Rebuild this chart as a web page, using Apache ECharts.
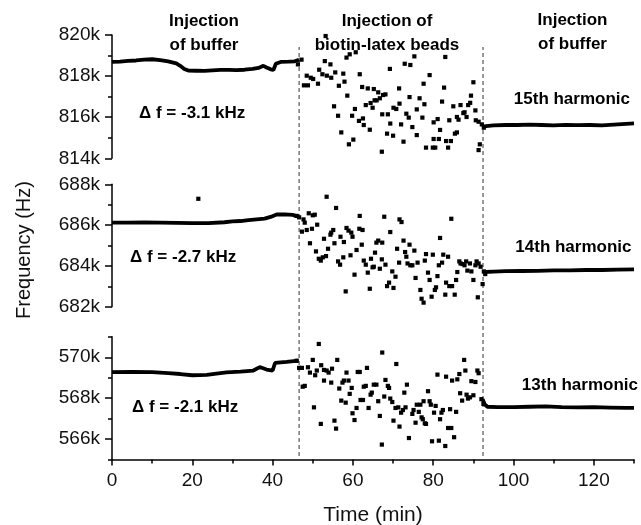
<!DOCTYPE html>
<html><head><meta charset="utf-8">
<script src="https://cdn.jsdelivr.net/npm/echarts@6/dist/echarts.min.js"></script>
<style>html,body{margin:0;padding:0;background:#fff}#chart{width:641px;height:525px}</style>
</head><body><div id="chart"></div>
<script>
// ---- axes / labels ----
const xRange = [0, 130];
const xTickLabels = [0, 20, 40, 60, 80, 100, 120];
const xMinorTicks = [10, 30, 50, 70, 90, 110, 130];
const injectionTimes = [46.6, 92.4];
const panelRanges = [[814, 820], [682, 688], [565, 571]];
const majorTicks = [[814, 816, 818, 820], [682, 684, 686, 688], [566, 568, 570]];
const minorTicks = [[815, 817, 819], [683, 685, 687], [565, 567, 569, 571]];
const harmonicLabels = ['15th harmonic', '14th harmonic', '13th harmonic'];
const shiftLabels = ['\u0394 f = -3.1 kHz', '\u0394 f = -2.7 kHz', '\u0394 f = -2.1 kHz'];
const phaseLabels = ['Injection\nof buffer', 'Injection of\nbiotin-latex beads', 'Injection\nof buffer'];

// ---- 15th harmonic (kHz) ----
const h15Before = [[0,818.69],[2,818.7],[4,818.74],[6,818.76],[8,818.8],[10,818.82],[12,818.78],[14,818.72],[16,818.62],[17,818.5],[18,818.35],[19,818.27],[21,818.26],[23,818.25],[25,818.28],[27,818.3],[29,818.3],[31,818.29],[33,818.31],[35,818.35],[36.5,818.4],[37.7,818.5],[38.5,818.42],[39.5,818.33],[40.2,818.3],[40.8,818.6],[42,818.69],[44,818.7],[45.5,818.72],[46.6,818.8]];
const h15Beads = [[47.2,818.8],[46.3,818.57],[47.8,817.55],[48.8,817.55],[48.5,818.02],[49.5,817.92],[50.1,817.86],[51.3,817.63],[51.6,818.31],[52.4,818.09],[53.0,818.73],[53.5,818.02],[54.4,818.57],[54.6,817.92],[55.6,818.18],[56.5,817.53],[57.6,818.12],[57.9,817.73],[58.4,818.9],[59.2,819.06],[60.7,819.16],[58.6,817.05],[55.3,816.53],[56.3,816.07],[57.1,815.26],[59.0,814.68],[60.1,814.91],[61.7,818.09],[62.3,817.47],[60.5,816.4],[59.8,816.07],[61.5,815.82],[62.5,815.94],[62.7,815.62],[64.2,815.39],[63.7,817.4],[65.2,817.37],[66.3,817.21],[67.5,817.08],[68.1,817.11],[63.2,816.59],[64.4,816.69],[64.9,816.46],[65.4,816.82],[65.9,816.82],[66.7,816.92],[67.3,816.14],[68.7,816.14],[69.2,818.35],[70.1,816.46],[70.8,816.4],[69.3,815.69],[68.5,815.2],[70.0,815.1],[71.5,817.4],[71.6,816.66],[72.0,815.65],[72.6,814.81],[67.2,814.32],[72.9,818.6],[74.3,818.54],[75.3,818.96],[74.1,816.98],[73.3,816.17],[73.9,815.98],[74.8,815.52],[75.9,815.13],[76.6,816.92],[77.3,815.98],[75.9,816.38],[77.8,816.63],[77.6,817.63],[79.1,818.05],[80.1,815.75],[81.1,815.91],[80.1,814.94],[81.7,815.38],[81.4,814.94],[79.9,814.52],[78.2,814.52],[80.5,814.52],[83.0,818.93],[82.7,817.44],[82.2,816.76],[84.0,815.85],[85.0,816.53],[85.9,816.01],[86.3,815.88],[86.8,816.59],[87.5,816.2],[87.8,816.24],[88.3,816.01],[88.7,816.59],[89.4,817.05],[90.0,817.7],[90.5,816.33],[90.6,815.85],[91.3,815.78],[83.2,814.84],[84.4,814.84],[83.7,814.52],[85.4,815.2],[85.9,815.26],[89.2,816.7],[92.1,815.65],[92.6,815.49],[91.6,814.68],[91.3,814.4],[53.2,819.95]];
const h15After = [[92.6,815.55],[95,815.6],[98,815.62],[101,815.62],[104,815.64],[107,815.62],[110,815.6],[113,815.63],[116,815.61],[119,815.62],[122,815.6],[125,815.64],[128,815.68],[130,815.7]];

// ---- 14th harmonic (kHz) ----
const h14Before = [[0,686.12],[4,686.12],[8,686.13],[12,686.12],[16,686.11],[20,686.1],[24,686.1],[28,686.14],[30,686.18],[32,686.2],[34,686.24],[36,686.28],[38,686.32],[39.5,686.4],[41,686.52],[43,686.53],[45,686.5],[46.6,686.4]];
const h14Outliers = [[21.5,687.29]];
const h14Beads = [[46.0,686.45],[46.6,686.38],[47.7,686.28],[48.0,686.12],[49.0,686.58],[50.0,686.48],[50.5,686.51],[47.3,685.68],[48.5,685.76],[49.8,685.82],[51.1,686.02],[53.45,687.39],[55.8,686.84],[49.3,685.11],[50.8,684.71],[51.5,684.35],[52.0,684.26],[52.5,684.42],[53.3,684.48],[52.8,685.33],[53.8,684.84],[54.4,685.53],[54.6,685.63],[55.1,685.76],[55.4,685.11],[56.3,684.22],[56.8,684.06],[56.9,685.43],[57.6,684.42],[57.75,685.17],[58.2,682.75],[58.4,685.86],[58.9,685.73],[59.6,685.63],[59.9,685.43],[59.4,684.52],[60.4,683.57],[60.9,684.78],[61.6,685.82],[61.7,686.45],[62.2,685.04],[62.4,685.76],[62.7,684.26],[63.2,684.06],[63.7,683.67],[64.2,682.88],[64.5,684.35],[64.9,683.93],[65.2,683.96],[65.5,684.65],[65.85,685.14],[66.3,685.24],[67.3,685.14],[67.2,684.32],[66.7,683.86],[67.8,686.41],[68.1,684.06],[68.5,683.01],[69.0,683.18],[69.3,685.66],[69.8,683.73],[70.1,682.92],[70.6,683.47],[71.0,684.84],[71.5,684.16],[71.6,686.28],[72.1,686.15],[72.6,685.24],[73.0,684.68],[73.3,684.45],[73.6,684.12],[74.1,685.04],[74.3,684.03],[74.8,684.03],[75.3,684.75],[75.6,683.41],[76.1,684.16],[76.8,682.82],[77.1,682.39],[77.6,682.2],[77.9,684.26],[78.2,684.58],[78.7,683.67],[79.1,683.31],[79.6,682.49],[79.9,684.55],[80.4,682.82],[80.7,682.95],[81.05,683.5],[81.4,684.03],[81.7,685.37],[82.2,684.16],[82.5,684.55],[83.0,682.59],[83.2,683.18],[83.7,684.45],[84.0,683.01],[84.5,686.31],[84.7,683.01],[85.35,682.59],[85.7,683.31],[86.0,683.7],[86.5,684.22],[86.8,684.12],[87.3,684.09],[87.8,684.03],[88.2,684.22],[88.5,683.77],[89.15,684.12],[89.5,683.73],[90.0,683.31],[90.5,684.03],[90.8,684.22],[91.3,684.12],[91.1,682.46],[91.8,683.96],[92.3,683.11],[92.6,683.73],[92.95,683.6]];
const h14After = [[92.6,683.7],[95,683.72],[98,683.74],[102,683.75],[106,683.76],[110,683.78],[114,683.78],[118,683.8],[122,683.8],[126,683.82],[130,683.83]];

// ---- 13th harmonic (kHz) ----
const h13Before = [[0,569.27],[5,569.28],[10,569.27],[14,569.22],[17,569.18],[20,569.12],[23.6,569.14],[26,569.2],[28.5,569.26],[32,569.3],[35.2,569.35],[36.8,569.52],[38.5,569.4],[40,569.35],[40.6,569.72],[43.5,569.77],[46.4,569.83]];
const h13Beads = [[46.0,569.83],[46.6,569.48],[47.3,569.48],[48.8,569.51],[49.3,569.25],[50.0,569.87],[50.6,569.12],[51.0,569.35],[51.5,570.65],[52.1,569.61],[52.8,569.38],[53.45,569.35],[53.95,569.25],[54.8,569.44],[56.1,569.87],[47.5,568.56],[48.0,568.6],[50.3,567.55],[52.0,566.74],[52.8,568.86],[54.6,568.76],[55.4,566.9],[55.8,566.51],[56.6,568.47],[57.1,567.88],[57.4,568.76],[57.75,568.86],[58.2,567.78],[58.4,569.25],[58.9,568.86],[59.2,568.21],[59.7,568.5],[59.9,567.26],[60.4,566.93],[60.9,567.52],[61.2,569.28],[61.7,569.28],[61.9,567.91],[62.5,567.91],[62.7,568.56],[63.2,568.6],[63.5,569.48],[63.9,567.52],[64.4,568.17],[64.7,568.27],[65.2,568.66],[65.85,568.66],[66.3,567.85],[66.7,567.13],[67.3,570.23],[67.2,565.73],[67.8,568.08],[68.1,568.89],[68.7,568.6],[69.0,568.5],[69.3,567.98],[69.8,567.81],[70.1,566.9],[70.6,567.52],[70.8,569.67],[71.3,567.55],[71.6,566.61],[72.0,567.29],[72.45,567.42],[72.8,568.27],[73.1,567.55],[73.45,568.66],[73.95,566.05],[74.8,567.23],[75.1,567.42],[75.6,566.8],[75.9,567.68],[76.4,567.33],[76.8,567.68],[77.1,567.06],[77.4,566.97],[77.6,567.85],[77.9,566.77],[78.2,566.74],[78.7,568.34],[79.1,567.85],[79.4,567.68],[79.7,565.89],[80.2,567.29],[80.6,567.62],[81.05,569.15],[81.4,565.92],[81.7,566.97],[82.05,567.29],[82.4,567.42],[83.0,565.66],[83.2,569.05],[83.7,566.54],[84.2,567.46],[84.5,566.54],[84.7,568.86],[85.2,566.09],[85.7,567.33],[86.0,568.92],[86.5,569.18],[86.7,568.24],[87.2,567.88],[87.7,569.87],[88.0,569.35],[88.3,568.17],[88.65,567.98],[89.15,568.04],[89.5,568.83],[90.0,568.14],[90.5,568.79],[91.0,569.35],[91.3,569.22],[92.0,567.95],[92.5,567.72]];
const h13After = [[92.3,567.95],[92.8,567.7],[93.5,567.58],[96,567.56],[100,567.56],[104,567.58],[108,567.6],[112,567.56],[116,567.55],[120,567.56],[124,567.54],[128,567.52],[130,567.52]];

const panels = [
  {before: h15Before, beads: h15Beads, after: h15After, extra: []},
  {before: h14Before, beads: h14Beads, after: h14After, extra: h14Outliers},
  {before: h13Before, beads: h13Beads, after: h13After, extra: []}
];

// ---- layout ----
const FONT = '"Liberation Sans", Arial, Helvetica, sans-serif';
const gridBoxes = [{top: 35, height: 123.3}, {top: 184.3, height: 122.4}, {top: 336.8, height: 122.7}];
const LEFT = 112, RIGHT = 7;

const grid = gridBoxes.map(g => ({left: LEFT, right: RIGHT, top: g.top, height: g.height, outerBoundsMode: 'none', containLabel: false}));
grid.push({left: LEFT, right: RIGHT, top: 47, height: 409, outerBoundsMode: 'none', containLabel: false});

const xAxis = [];
const yAxis = [];
const series = [];
const axisColor = '#000';

for (let i = 0; i < 3; i++) {
  const isBottom = i === 2;
  xAxis.push({
    gridIndex: i, type: 'value', min: xRange[0], max: xRange[1],
    show: isBottom, position: 'bottom',
    axisLine: {show: true, onZero: false, lineStyle: {color: axisColor, width: 1.5}},
    axisTick: {show: true, length: 6, customValues: xTickLabels, lineStyle: {color: axisColor, width: 1.5}},
    axisLabel: {color: '#111', fontSize: 19, fontFamily: FONT, margin: 12, customValues: xTickLabels},
    splitLine: {show: false},
    name: isBottom ? 'Time (min)' : '',
    nameLocation: 'middle', nameGap: 45,
    nameTextStyle: {color: '#111', fontSize: 21, fontFamily: FONT}
  });
  yAxis.push({
    gridIndex: i, type: 'value', position: 'left',
    min: panelRanges[i][0], max: panelRanges[i][1],
    axisLine: {show: true, onZero: false, lineStyle: {color: axisColor, width: 1.5}},
    axisTick: {show: true, length: 7, customValues: majorTicks[i], lineStyle: {color: axisColor, width: 1.5}},
    axisLabel: {show: true, customValues: majorTicks[i], formatter: v => v + 'k', color: '#111', fontSize: 19, fontFamily: FONT, margin: 12},
    splitLine: {show: false}
  });
  yAxis.push({
    gridIndex: i, type: 'value', position: 'left', offset: 0,
    min: panelRanges[i][0], max: panelRanges[i][1],
    axisLine: {show: false},
    axisTick: {show: true, length: 4, customValues: minorTicks[i], lineStyle: {color: axisColor, width: 1.5}},
    axisLabel: {show: false},
    splitLine: {show: false}
  });
  const p = panels[i];
  const lineStyle = {color: '#000', width: 3.8};
  series.push({type: 'line', xAxisIndex: i, yAxisIndex: 2 * i, data: p.before, showSymbol: false, symbol: 'none', lineStyle, silent: true, z: 3});
  series.push({type: 'line', xAxisIndex: i, yAxisIndex: 2 * i, data: p.after, showSymbol: false, symbol: 'none', lineStyle, silent: true, z: 3});
  series.push({type: 'scatter', xAxisIndex: i, yAxisIndex: 2 * i, data: p.beads.concat(p.extra), symbol: 'rect', symbolSize: 4.2, itemStyle: {color: '#000', opacity: 1}, silent: true, z: 3});
}
// minor x ticks on the bottom panel
xAxis.push({
  gridIndex: 2, type: 'value', min: xRange[0], max: xRange[1], position: 'bottom', offset: 0,
  axisLine: {show: false}, axisLabel: {show: false}, splitLine: {show: false},
  axisTick: {show: true, length: 4, customValues: xMinorTicks, lineStyle: {color: axisColor, width: 1.5}}
});
// overlay for dashed injection markers spanning all panels
xAxis.push({gridIndex: 3, type: 'value', min: xRange[0], max: xRange[1], show: false});
yAxis.push({gridIndex: 3, type: 'value', min: 0, max: 1, show: false});
injectionTimes.forEach(t => {
  series.push({type: 'line', xAxisIndex: 4, yAxisIndex: 6, data: [[t, 0], [t, 1]], symbol: 'none',
    lineStyle: {color: '#555', width: 1.2, type: [4, 3]}, silent: true, z: 1});
});

const bold = '700 17px ' + FONT;
const graphic = [
  {type: 'text', x: 204, y: 9, z: 100, style: {text: phaseLabels[0], font: bold, fill: '#000', align: 'center', verticalAlign: 'top', lineHeight: 24}},
  {type: 'text', x: 387, y: 9, z: 100, style: {text: phaseLabels[1], font: bold, fill: '#000', align: 'center', verticalAlign: 'top', lineHeight: 24}},
  {type: 'text', x: 572.5, y: 8, z: 100, style: {text: phaseLabels[2], font: bold, fill: '#000', align: 'center', verticalAlign: 'top', lineHeight: 24}},
  {type: 'text', x: 139, y: 113, z: 100, style: {text: shiftLabels[0], font: bold, fill: '#000', align: 'left', verticalAlign: 'middle'}},
  {type: 'text', x: 130, y: 257.5, z: 100, style: {text: shiftLabels[1], font: bold, fill: '#000', align: 'left', verticalAlign: 'middle'}},
  {type: 'text', x: 132, y: 407.5, z: 100, style: {text: shiftLabels[2], font: bold, fill: '#000', align: 'left', verticalAlign: 'middle'}},
  {type: 'text', x: 630, y: 99.5, z: 100, style: {text: harmonicLabels[0], font: bold, fill: '#000', align: 'right', verticalAlign: 'middle'}},
  {type: 'text', x: 631.5, y: 247.5, z: 100, style: {text: harmonicLabels[1], font: bold, fill: '#000', align: 'right', verticalAlign: 'middle'}},
  {type: 'text', x: 638, y: 385, z: 100, style: {text: harmonicLabels[2], font: bold, fill: '#000', align: 'right', verticalAlign: 'middle'}},
  {type: 'text', x: 24, y: 250, rotation: Math.PI / 2, z: 100, style: {text: 'Frequency (Hz)', font: '400 20px ' + FONT, fill: '#111', align: 'center', verticalAlign: 'middle'}}
];

const chart = echarts.init(document.getElementById('chart'), null, {renderer: 'canvas'});
chart.setOption({animation: false, backgroundColor: '#fff', grid, xAxis, yAxis, series, graphic});
</script></body></html>
